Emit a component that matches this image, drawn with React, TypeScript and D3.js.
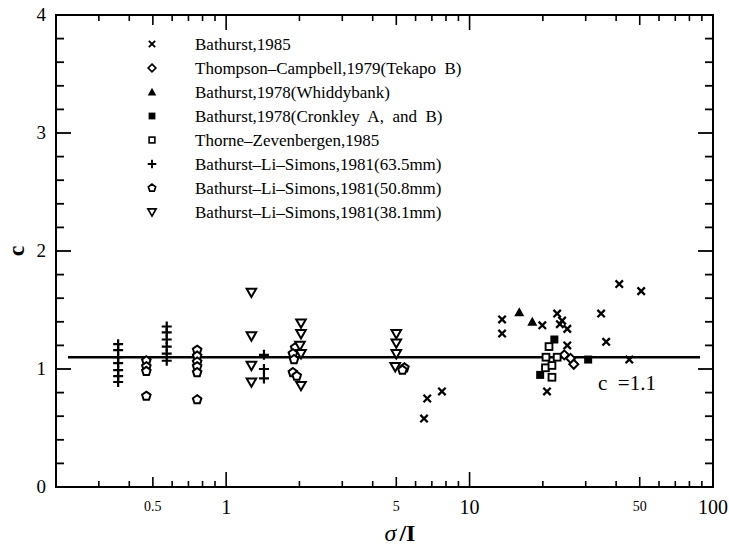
import React from "react";
import * as d3 from "d3";

type P = [number, number];

const bathurst1985: P[] = [
  [6.5, 0.58], [6.7, 0.75], [7.7, 0.81], [13.6, 1.42], [13.6, 1.30], [19.9, 1.37],
  [22.9, 1.47], [23.5, 1.38], [24.0, 1.41], [25.2, 1.34], [25.2, 1.20], [20.8, 0.81],
  [34.7, 1.47], [36.4, 1.23], [41.2, 1.72], [50.7, 1.66], [45.3, 1.08],
];
const thompsonCampbell: P[] = [[24.5, 1.12], [26.0, 1.09], [26.8, 1.04]];
const whiddybank: P[] = [[16.0, 1.48], [18.1, 1.40]];
const cronkley: P[] = [[22.3, 1.25], [19.5, 0.95], [30.7, 1.08]];
const thorne: P[] = [[21.2, 1.19], [20.6, 1.10], [20.5, 1.01], [21.8, 1.03], [21.8, 0.93], [22.9, 1.10]];
const bls635: P[] = [
  [0.36, 1.21], [0.36, 1.16], [0.36, 1.10], [0.36, 1.05], [0.36, 0.99], [0.36, 0.94], [0.36, 0.89],
  [0.57, 1.36], [0.57, 1.31], [0.57, 1.25], [0.57, 1.19], [0.57, 1.13], [0.57, 1.07],
  [1.43, 1.12], [1.43, 1.00], [1.43, 0.92],
];
const bls508: P[] = [
  [0.47, 1.07], [0.47, 1.02], [0.47, 0.98], [0.47, 0.77],
  [0.76, 1.16], [0.76, 1.11], [0.76, 1.06], [0.76, 1.02], [0.76, 0.97], [0.76, 0.74],
  [1.92, 1.18], [1.88, 1.13], [1.90, 1.08], [1.88, 0.97], [1.95, 0.94],
  [5.4, 1.01], [5.3, 0.99],
];
const bls381: P[] = [
  [1.27, 1.65], [1.27, 1.28], [1.27, 1.03], [1.27, 0.89],
  [2.03, 1.39], [2.03, 1.30], [2.01, 1.20], [2.03, 1.13], [2.03, 0.86],
  [5.0, 1.30], [5.0, 1.22], [5.0, 1.13], [4.95, 1.02],
];

const legendLabels = [
  "Bathurst,1985",
  "Thompson\u2013Campbell,1979(Tekapo  B)",
  "Bathurst,1978(Whiddybank)",
  "Bathurst,1978(Cronkley  A,  and  B)",
  "Thorne\u2013Zevenbergen,1985",
  "Bathurst\u2013Li\u2013Simons,1981(63.5mm)",
  "Bathurst\u2013Li\u2013Simons,1981(50.8mm)",
  "Bathurst\u2013Li\u2013Simons,1981(38.1mm)",
];
const markerKinds = ["cross", "diamond", "triUp", "fillSq", "openSq", "plus", "pent", "triDown"];
const seriesData: P[][] = [bathurst1985, thompsonCampbell, whiddybank, cronkley, thorne, bls635, bls508, bls381];

const xMajorLabels = [1, 10, 100];
const xMidLabels = [0.5, 5, 50];
const yTickLabels = [0, 1, 2, 3, 4];
const refC = 1.1;

const FONT = "'Liberation Serif', 'Times New Roman', serif";

function Marker({ kind, cx, cy, s = 1 }: { kind: string; cx: number; cy: number; s?: number }) {
  const sw = 2 * s;
  switch (kind) {
    case "cross": {
      const h = 3.7 * s;
      return <path d={`M${cx - h},${cy - h}L${cx + h},${cy + h}M${cx - h},${cy + h}L${cx + h},${cy - h}`} stroke="#000" strokeWidth={2.3 * s} fill="none" />;
    }
    case "diamond": {
      const h = 4.5 * s;
      return <path d={`M${cx},${cy - h}L${cx + h},${cy}L${cx},${cy + h}L${cx - h},${cy}Z`} stroke="#000" strokeWidth={sw} fill="#fff" />;
    }
    case "triUp": {
      const h = 5 * s;
      return <path d={`M${cx},${cy - h}L${cx + h},${cy + h * 0.8}L${cx - h},${cy + h * 0.8}Z`} fill="#000" />;
    }
    case "fillSq": {
      const h = 4 * s;
      return <rect x={cx - h} y={cy - h} width={2 * h} height={2 * h} fill="#000" />;
    }
    case "openSq": {
      const h = 3.4 * s;
      return <rect x={cx - h} y={cy - h} width={2 * h} height={2 * h} fill="#fff" stroke="#000" strokeWidth={1.9 * s} />;
    }
    case "plus": {
      const h = 5 * s;
      return <path d={`M${cx - h},${cy}L${cx + h},${cy}M${cx},${cy - h}L${cx},${cy + h}`} stroke="#000" strokeWidth={2.2 * s} fill="none" />;
    }
    case "pent": {
      const r = 4.5 * s;
      const pts = d3.range(5).map((i) => {
        const a = -Math.PI / 2 + (i * 2 * Math.PI) / 5;
        return [cx + r * Math.cos(a), cy + r * Math.sin(a)];
      });
      return <path d={"M" + pts.map((p) => p.join(",")).join("L") + "Z"} fill="#fff" stroke="#000" strokeWidth={sw} />;
    }
    case "triDown": {
      const h = 4.8 * s;
      return <path d={`M${cx - h},${cy - h * 0.75}L${cx + h},${cy - h * 0.75}L${cx},${cy + h}Z`} fill="#fff" stroke="#000" strokeWidth={sw} />;
    }
  }
  return null;
}

export default function App() {
  const W = 729, H = 546;
  const left = 56, right = 713, top = 15, bottom = 487;
  const x = d3.scaleLog().domain([0.2, 100]).range([left, right]);
  const y = d3.scaleLinear().domain([0, 4]).range([bottom, top]);

  const xTicks = x.ticks();
  const yMinor = d3.range(0, 4.0001, 0.2).map((v) => +v.toFixed(1));

  const tickLen = (v: number) => {
    const l = Math.log10(v);
    if (Math.abs(l - Math.round(l)) < 1e-6) return 15;
    if (xMidLabels.some((m) => Math.abs(m - v) < 1e-9)) return 10;
    return 6;
  };

  return (
    <svg width={W} height={H} style={{ position: "absolute", left: 0, top: 0, background: "#fff" }} fontFamily={FONT}>
      <rect x={0} y={0} width={W} height={H} fill="#fff" />
      {/* frame */}
      <rect x={left} y={top} width={right - left} height={bottom - top} fill="none" stroke="#000" strokeWidth={2} />
      {/* x ticks bottom & top */}
      {xTicks.map((v, i) => (
        <g key={"xt" + i}>
          <line x1={x(v)} x2={x(v)} y1={bottom} y2={bottom - tickLen(v)} stroke="#000" strokeWidth={1.6} />
          <line x1={x(v)} x2={x(v)} y1={top} y2={top + tickLen(v)} stroke="#000" strokeWidth={1.6} />
        </g>
      ))}
      {/* y ticks left & right */}
      {yMinor.map((v, i) => {
        const major = Math.abs(v - Math.round(v)) < 1e-6;
        const len = major ? 15 : 8;
        return (
          <g key={"yt" + i}>
            <line x1={left} x2={left + len} y1={y(v)} y2={y(v)} stroke="#000" strokeWidth={1.8} />
            <line x1={right} x2={right - len} y1={y(v)} y2={y(v)} stroke="#000" strokeWidth={1.8} />
          </g>
        );
      })}
      {/* y labels */}
      {yTickLabels.map((v) => (
        <text key={"yl" + v} x={46} y={y(v) + 6} textAnchor="end" fontSize={19}>{v}</text>
      ))}
      {/* x labels */}
      {xMajorLabels.map((v) => (
        <text key={"xl" + v} x={x(v)} y={514} textAnchor="middle" fontSize={20}>{v}</text>
      ))}
      {xMidLabels.map((v) => (
        <text key={"xm" + v} x={x(v)} y={511} textAnchor="middle" fontSize={14}>{v}</text>
      ))}
      {/* axis titles */}
      <text x={400} y={541} textAnchor="middle" fontSize={24}>
        <tspan fontStyle="italic">σ</tspan>
        <tspan dx={3} fontWeight="bold">/I</tspan>
      </text>
      <text transform={`translate(24,${y(2)}) rotate(-90)`} textAnchor="middle" fontSize={24} fontWeight="bold">c</text>

      {/* reference line */}
      <line x1={68} x2={700} y1={y(refC)} y2={y(refC)} stroke="#000" strokeWidth={2.6} />
      <text x={598} y={390} fontSize={21} style={{ whiteSpace: "pre" }}>{"c  =1.1"}</text>

      {/* data */}
      {seriesData.map((arr, si) =>
        arr.map((p, i) => <Marker key={si + "-" + i} kind={markerKinds[si]} cx={x(p[0])} cy={y(p[1])} />)
      )}

      {/* legend */}
      {legendLabels.map((t, i) => (
        <g key={"lg" + i}>
          <Marker kind={markerKinds[i]} cx={152} cy={44 + i * 24} s={0.85} />
          <text x={195} y={50 + i * 24} fontSize={17} style={{ whiteSpace: "pre" }}>{t}</text>
        </g>
      ))}
    </svg>
  );
}
